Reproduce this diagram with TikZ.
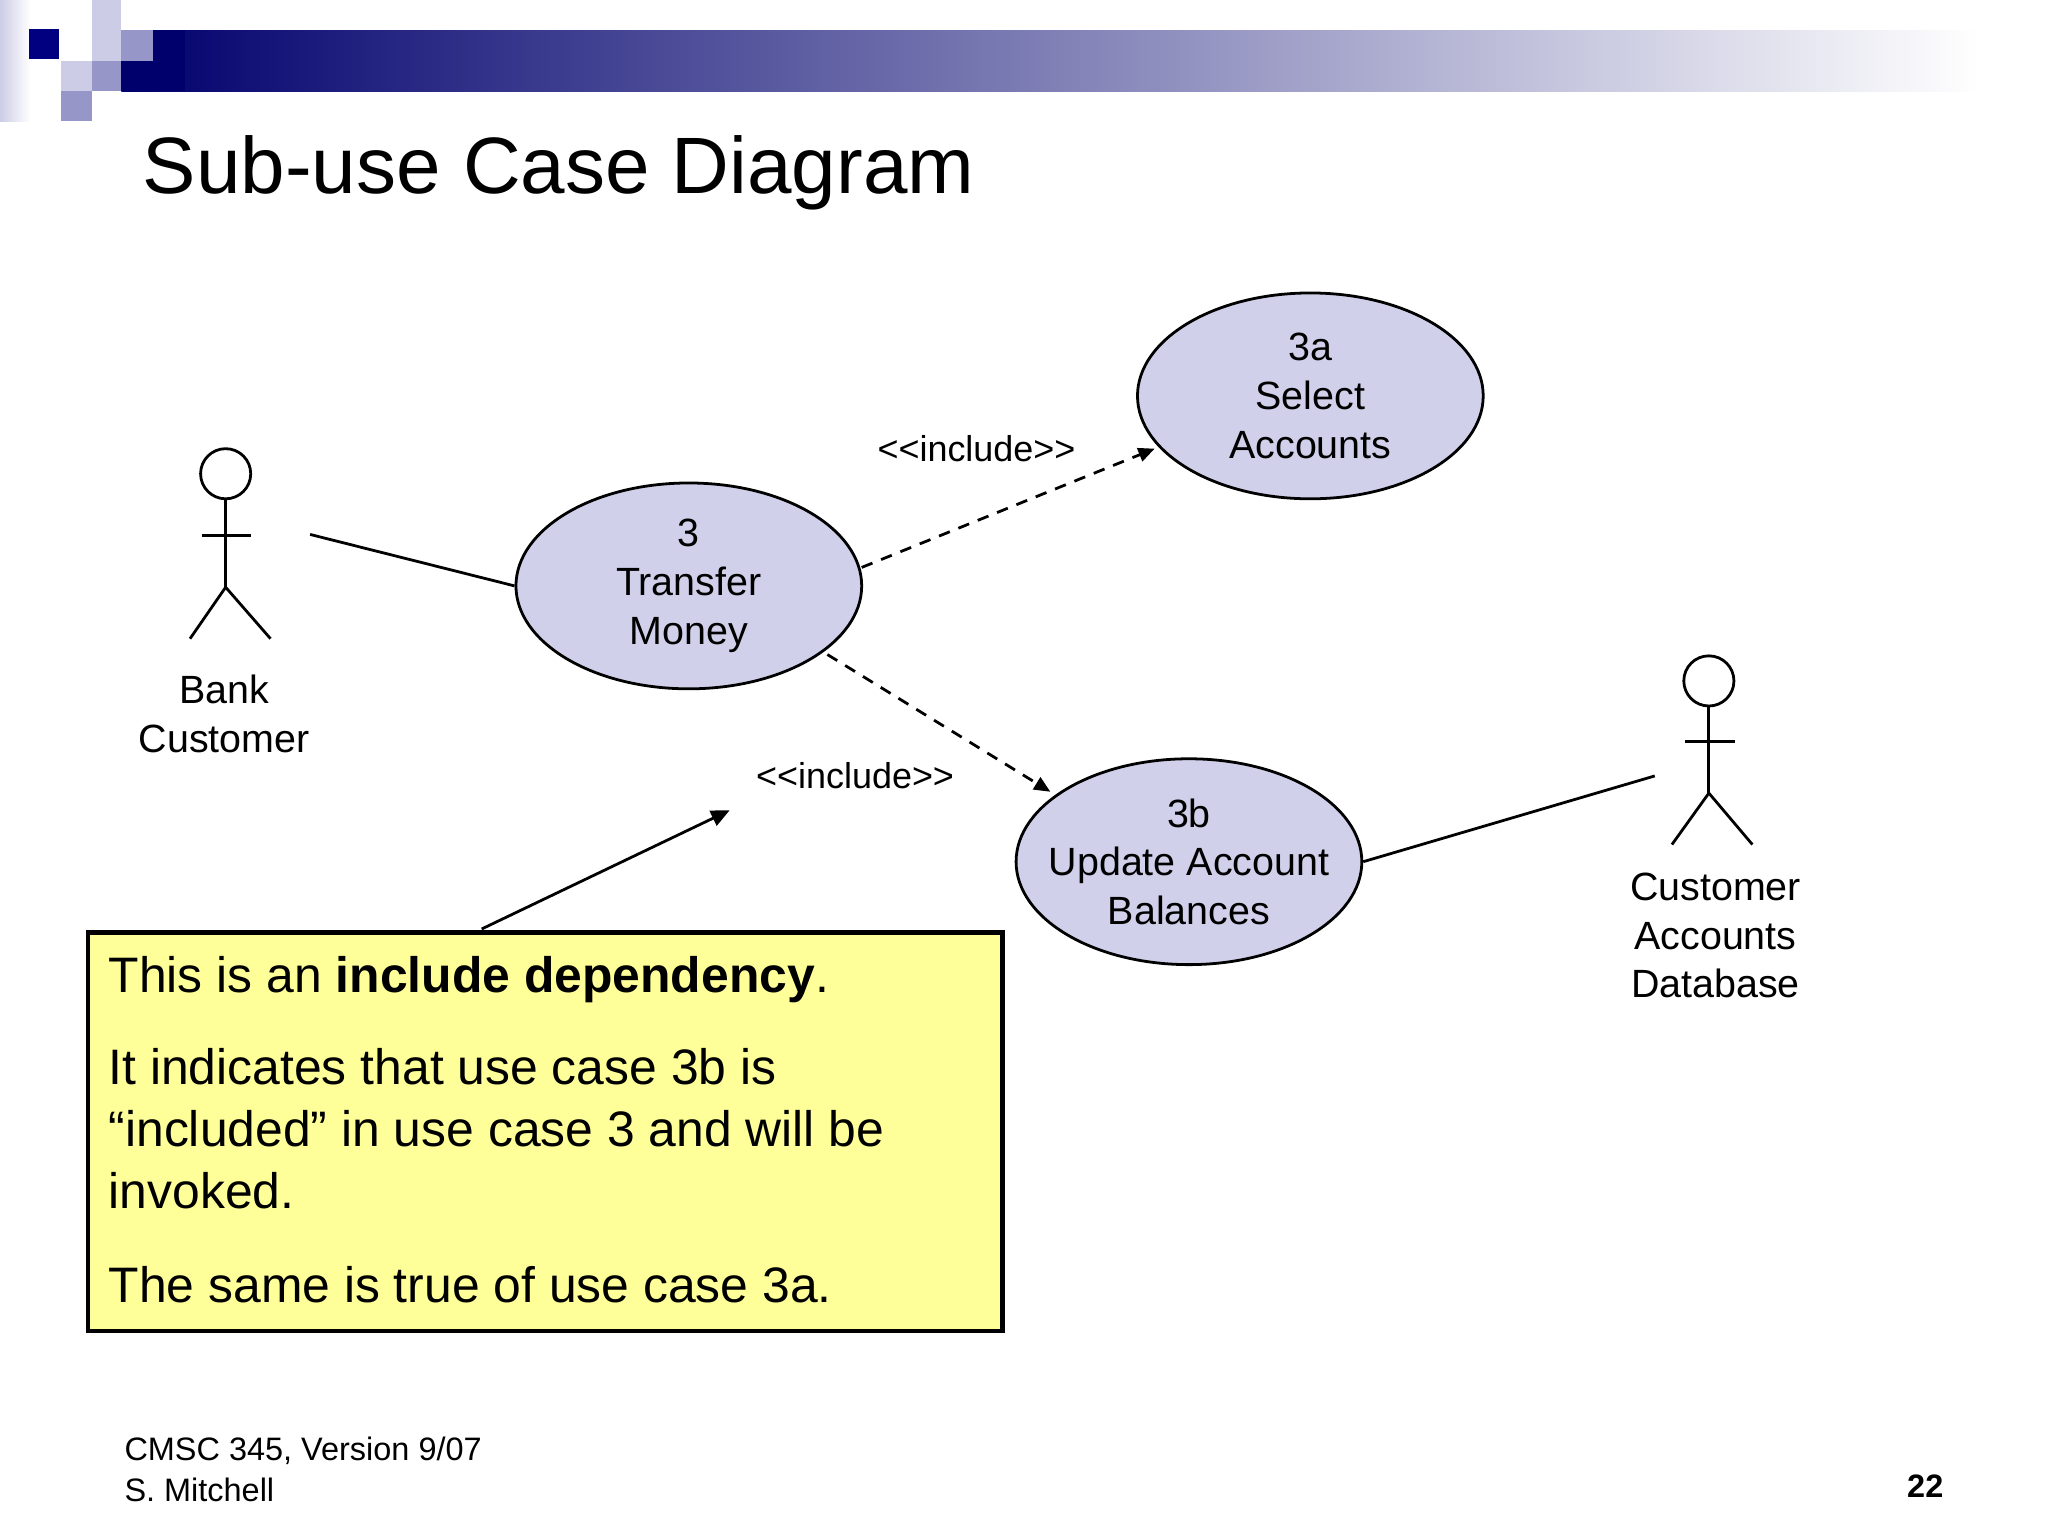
\documentclass[tikz,border=0pt]{standalone}
\usepackage{fontspec}
\setmainfont{Liberation Sans}
\usetikzlibrary{arrows.meta,shapes.geometric}
\definecolor{navy}{RGB}{0,0,128}
\definecolor{lite}{RGB}{204,204,230}
\definecolor{medi}{RGB}{150,150,200}
\definecolor{uc}{RGB}{208,208,234}
\definecolor{note}{RGB}{255,255,153}
\begin{document}
\begin{tikzpicture}[x=0.02cm,y=-0.02cm,
  uc/.style={draw=black,line width=1.2pt,fill=uc,ellipse,inner sep=0,minimum width=262*0.02cm,minimum height=156*0.02cm},
  lbl/.style={align=center,font=\fontsize{17}{21}\selectfont},
  ln/.style={line width=1.2pt},
  dep/.style={line width=1.2pt,dash pattern=on 5pt off 4pt,-{Triangle[length=7pt,width=6pt]}},
  act/.style={line width=1.2pt}]
\useasboundingbox (0,0) rectangle (1552,1164);
% header decoration
\shade[left color=lite,right color=white] (0,0) rectangle (23,92);
\shade[left color=navy!85!black,right color=white] (92,23) rectangle (1500,69);
\fill[navy] (22,22) rectangle (45,45);
\fill[lite] (70,0) rectangle (92,23);
\fill[lite] (70,23) rectangle (92,46);
\fill[medi] (92,23) rectangle (116,46);
\fill[navy!85!black] (116,23) rectangle (140,46);
\fill[navy!85!black] (92,46) rectangle (140,69);
\fill[lite] (46,46) rectangle (70,69);
\fill[medi] (70,46) rectangle (92,69);
\fill[medi] (46,69) rectangle (70,92);
\node[anchor=base west,inner sep=0,font=\fontsize{34.5}{40}\selectfont] (title) at (108,147) {Sub-use Case Diagram};
% use cases
\node[uc] (u3) at (522,444) {};
\node[lbl] at (u3) {3\\Transfer\\Money};
\node[uc] (u3a) at (993,300) {};
\node[lbl] at (u3a) {3a\\Select\\Accounts};
\node[uc] (u3b) at (901,653) {};
\node[lbl] at (u3b) {3b\\Update Account\\Balances};
% actor 1
\node[draw,circle,line width=1.2pt,minimum size=38*0.02cm,inner sep=0] (h1) at (171,359) {};
\coordinate (w1) at (171,445);
\draw[act] (h1.south) -- (w1);
\draw[act] (153,406) -- (190,406);
\draw[act] (144,484) -- (w1) -- (205,484);
\node[lbl] (a1) at (170,541) {Bank\\Customer};
% actor 2
\node[draw,circle,line width=1.2pt,minimum size=38*0.02cm,inner sep=0] (h2) at (1295,516) {};
\coordinate (w2) at (1295,601);
\draw[act] (h2.south) -- (w2);
\draw[act] (1277,562) -- (1315,562);
\draw[act] (1267,640) -- (w2) -- (1328,640);
\node[lbl] (a2) at (1300,709) {Customer\\Accounts\\Database};
% associations
\coordinate (c1) at (235,405);
\draw[ln] (c1) -- (u3.west);
\coordinate (c2) at (1254,588);
\draw[ln] (u3b.east) -- (c2);
% includes
\coordinate (s1) at (653,430); \coordinate (e1) at (875,340);
\draw[dep] (s1) -- (e1);
\coordinate (s2) at (627,496); \coordinate (e2) at (796,600);
\draw[dep] (s2) -- (e2);
\node[lbl,font=\fontsize{15.5}{18}\selectfont] (i1) at (740,340) {{<}{<}include{>}{>}};
\node[lbl,font=\fontsize{15.5}{18}\selectfont] (i2) at (648,588) {{<}{<}include{>}{>}};
% note
\node[draw=black,line width=2pt,fill=note,minimum width=693*0.02cm,minimum height=302*0.02cm,anchor=north west,inner sep=0] (box) at (65,705) {};
\coordinate (ae) at (553,614);
\draw[ln,-{Triangle[length=8pt,width=7pt]}] (365,704) -- (ae);
\begin{scope}[every node/.style={anchor=base west,inner sep=0,font=\fontsize{21.5}{26}\selectfont}]
\node (t1) at (82,752) {This is an \textbf{include dependency}.};
\node (t2) at (82,822) {It indicates that use case 3b is};
\node (t3) at (82,869) {“included” in use case 3 and will be};
\node (t4) at (82,916) {invoked.};
\node (t5) at (82,987) {The same is true of use case 3a.};
\end{scope}
\node[anchor=base west,inner sep=0,font=\fontsize{14}{17}\selectfont] (f1) at (94,1107) {CMSC 345, Version 9/07};
\node[anchor=base west,inner sep=0,font=\fontsize{14}{17}\selectfont] (f2) at (94,1138) {S. Mitchell};
\node[anchor=base east,inner sep=0,font=\fontsize{14}{17}\selectfont\bfseries] (pg) at (1473,1135) {22};
\end{tikzpicture}
\end{document}
